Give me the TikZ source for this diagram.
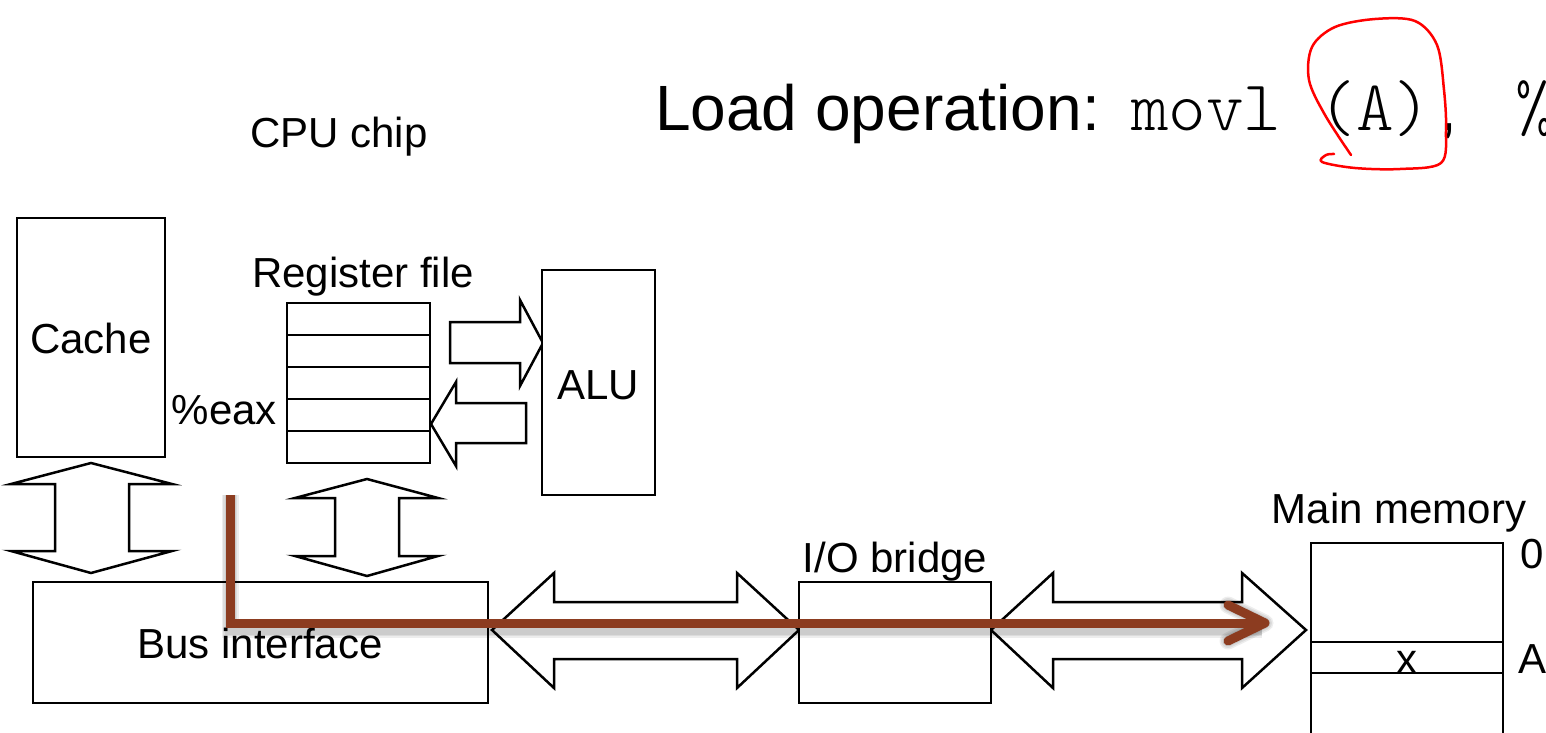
\documentclass[tikz,border=0pt]{standalone}
\usepackage{fontspec}
\setmainfont{Liberation Sans}
\newfontfamily\codefont{Latin Modern Mono Light}
\usetikzlibrary{arrows.meta}
\newcommand\lbl{\fontsize{42bp}{48bp}\selectfont}
\definecolor{pathbrown}{RGB}{140,60,32}
\begin{document}
\begin{tikzpicture}[x=1bp,y=-1bp, line join=miter,
  box/.style={draw, line width=2.5bp, inner sep=0pt, outer sep=0pt, fill=white},
  hollow/.style={draw, line width=2.5bp, fill=white},
  lab/.style={font=\lbl, inner sep=0pt},
  brownline/.style={draw=pathbrown, line width=9bp},
  shade/.style={draw=black, line width=#1, opacity=0.07}]
\useasboundingbox (0,0) rectangle (1546,733);
\clip (0,0) rectangle (1546,733);

% title
\node[anchor=base west, inner sep=0pt] (title) at (655,131) {\fontsize{64bp}{70bp}\selectfont Load operation:};
\node[anchor=base west, inner sep=0pt] (code) at (1131,131) {\fontsize{71.5bp}{76bp}\selectfont\codefont movl (A)\hspace{8bp}{\fontsize{64bp}{70bp}\selectfont\rmfamily ,}\hspace{58bp}\%};

% hollow arrows
\draw[hollow] (450,322) -- (520,322) -- (520,300) -- (543,343) -- (520,386) -- (520,363) -- (450,363) -- cycle;
\draw[hollow] (526,403) -- (456,403) -- (456,382) -- (431,424) -- (456,466) -- (456,443) -- (526,443) -- cycle;
\draw[hollow] (91,463) -- (172,484) -- (129,484) -- (129,551) -- (172,551) -- (91,573) -- (11,551) -- (55,551) -- (55,484) -- (11,484) -- cycle;
\draw[hollow] (367,479) -- (438,498) -- (399,498) -- (399,556) -- (438,556) -- (367,576) -- (295,556) -- (335,556) -- (335,498) -- (295,498) -- cycle;
\draw[hollow] (492,630) -- (554,573) -- (554,602) -- (737,602) -- (737,573) -- (799,630) -- (737,688) -- (737,659) -- (554,659) -- (554,688) -- cycle;
\draw[hollow] (991,630) -- (1053,573) -- (1053,602) -- (1242,602) -- (1242,573) -- (1306,630) -- (1242,688) -- (1242,659) -- (1053,659) -- (1053,688) -- cycle;

% boxes
\node[box, minimum width=148bp, minimum height=239bp] (cache) at (91,337.5) {};
\node[box, minimum width=143bp, minimum height=160bp] (reg) at (358.5,383) {};
\foreach \yy in {335,367,399,431} \draw[line width=2.5bp] (287,\yy) -- (430,\yy);
\node[box, minimum width=113bp, minimum height=225bp] (alu) at (598.5,382.5) {};
\node[box, minimum width=455bp, minimum height=121bp] (bus) at (260.5,642.5) {};
\node[box, minimum width=192bp, minimum height=121bp] (bridge) at (895,642.5) {};
\draw[line width=2.5bp, fill=white] (1311,745) -- (1311,543) -- (1503,543) -- (1503,745);
\node[inner sep=0pt, minimum width=192bp, minimum height=31bp] (cell) at (1407,657.5) {};
\draw[line width=2.5bp] (cell.north west) -- (cell.north east) (cell.south west) -- (cell.south east);

% labels
\node[lab, anchor=base] (cpu) at (339,148) {CPU chip};
\node[lab, anchor=base] (regl) at (363,287) {Register file};
\node[lab, anchor=base] at (91,353) {Cache};
\node[lab, anchor=base] at (598,399) {ALU};
\node[lab, anchor=base east] (eax) at (277,424) {\%eax};
\node[lab, anchor=base] at (260,658) {Bus interface};
\node[lab, anchor=base] (iol) at (895,572) {I/O bridge};
\node[lab, anchor=base] (meml) at (1399,523) {Main memory};
\node[lab, anchor=base] (zero) at (1532,568) {0};
\node[lab, anchor=base] (addr) at (1532,673) {A};
\node[lab, anchor=base] (xval) at (1407,673) {x};

% brown data path with soft shadow
\coordinate (start) at (230,495);
\coordinate (tip) at (1265,623);
\coordinate (armU) at (1228,605);
\coordinate (armD) at (1228,641);
\begin{scope}[shift={(4,6)}]
  \foreach \w in {17,14,11} {
    \draw[shade=\w bp] (start) |- (1258,623);
    \draw[shade=\w bp, line cap=round, line join=round] (armU) -- (tip) -- (armD);
  }
\end{scope}
\draw[brownline] (start) |- (1258,623);
\draw[brownline, line cap=round, line join=round] (armU) -- (tip) -- (armD);

% red annotation
\draw[red, line width=2.5bp, line cap=round, line join=round]
  plot[smooth, tension=0.55] coordinates {(1351,155) (1325,115) (1309,80) (1312,47) (1335,27) (1375,19) (1415,21) (1437,45) (1444,90) (1446,130) (1441,163) (1400,169) (1355,168) (1322,162) (1326,155) (1334,154)};
\end{tikzpicture}
\end{document}
